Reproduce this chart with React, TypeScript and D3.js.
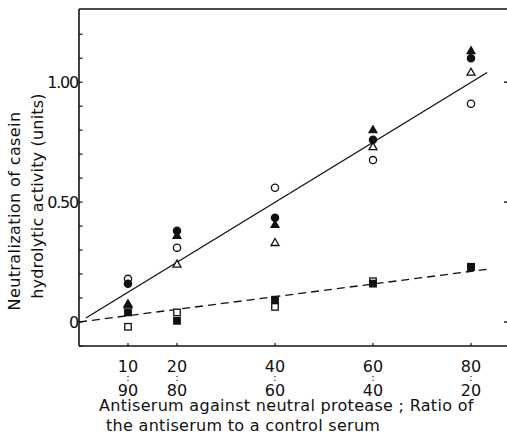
import React from "react";
import * as d3 from "d3";

const xValues = [10, 20, 40, 60, 80];
const ratioTop = ["10", "20", "40", "60", "80"];
const ratioBottom = ["90", "80", "60", "40", "20"];
const openCircle = [0.18, 0.31, 0.56, 0.675, 0.91];
const filledCircle = [0.16, 0.38, 0.435, 0.76, 1.1];
const openTriangle = [0.075, 0.24, 0.33, 0.73, 1.04];
const filledTriangle = [0.07, 0.36, 0.405, 0.8, 1.13];
const openSquare = [-0.02, 0.04, 0.063, 0.17, 0.23];
const filledSquare = [0.04, 0.005, 0.093, 0.16, 0.23];
const solidFit = [[1.4, 0.017], [83.3, 1.04]];
const dashedFit = [[0, 0], [83.3, 0.22]];
const yTicks = [-0.1, 0, 0.1, 0.2, 0.3, 0.4, 0.5, 0.6, 0.7, 0.8, 0.9, 1.0, 1.1, 1.2];
const yLabels: [number, string][] = [[0, "0"], [0.5, "0.50"], [1.0, "1.00"]];

const W = 507, H = 434;
const x = d3.scaleLinear().domain([0, 87.5]).range([79, 507.75]);
const y = d3.scaleLinear().domain([-0.1, 1.305]).range([346, 9]);
const FONT = "'DejaVu Sans', sans-serif";

function tri(cx: number, cy: number, s: number) {
  const h = s * 0.87;
  return `M${cx},${cy - h * 0.62} L${cx + s / 2},${cy + h * 0.38} L${cx - s / 2},${cy + h * 0.38} Z`;
}

export default function App() {
  const line = d3.line<number[]>().x(d => x(d[0])).y(d => y(d[1]));
  const sq = 6.5;
  return (
    <svg width={W} height={H} style={{ position: "absolute", left: 0, top: 0, background: "#fff" }}>
      {/* frame */}
      <line x1={79} y1={y(1.305)} x2={W} y2={y(1.305)} stroke="#111" strokeWidth={1.6} />
      <line x1={79} y1={y(-0.1)} x2={W} y2={y(-0.1)} stroke="#111" strokeWidth={1.6} />
      <line x1={79} y1={y(1.305)} x2={79} y2={y(-0.1)} stroke="#111" strokeWidth={1.6} />
      {/* y ticks left */}
      {yTicks.map(t => (
        <line key={"yt" + t} x1={79} x2={82.5} y1={y(t)} y2={y(t)} stroke="#111" strokeWidth={1.2} />
      ))}
      {/* right ticks */}
      {[0, 0.5, 1.0].map(t => (
        <line key={"rt" + t} x1={504} x2={W} y1={y(t)} y2={y(t)} stroke="#111" strokeWidth={1.4} />
      ))}
      {yLabels.map(([v, s]) => (
        <text key={"yl" + s} x={78} y={y(v)} dy="0.36em" textAnchor="end" fontFamily={FONT} fontSize={16} letterSpacing={-1.2} fill="#111">{s}</text>
      ))}
      {/* x ticks */}
      {xValues.map((v, i) => (
        <g key={"xt" + v}>
          <line x1={x(v)} x2={x(v)} y1={y(-0.1)} y2={y(-0.1) - 3} stroke="#111" strokeWidth={1.2} />
          <text textAnchor="middle" fontFamily={FONT} fill="#111">
            <tspan x={x(v)} y={372} fontSize={16}>{ratioTop[i]}</tspan>
            <tspan x={x(v)} y={381} fontSize={10}>:</tspan>
            <tspan x={x(v)} y={396} fontSize={16}>{ratioBottom[i]}</tspan>
          </text>
        </g>
      ))}
      {/* fit lines */}
      <path d={line(solidFit) || ""} fill="none" stroke="#111" strokeWidth={1.3} />
      <path d={line(dashedFit) || ""} fill="none" stroke="#111" strokeWidth={1.3} strokeDasharray="8,5" />
      {/* markers */}
      {xValues.map((v, i) => (
        <g key={"m" + v}>
          <rect x={x(v) - sq / 2} y={y(openSquare[i]) - sq / 2} width={sq} height={sq} fill="#fff" stroke="#111" strokeWidth={1.3} />
          <rect x={x(v) - sq / 2} y={y(filledSquare[i]) - sq / 2} width={sq} height={sq} fill="#111" stroke="#111" strokeWidth={1.3} />
          <path d={tri(x(v), y(openTriangle[i]), 8)} fill="#fff" stroke="#111" strokeWidth={1.3} />
          <path d={tri(x(v), y(filledTriangle[i]), 8)} fill="#111" stroke="#111" strokeWidth={1.2} />
          <circle cx={x(v)} cy={y(openCircle[i])} r={3.6} fill="#fff" stroke="#111" strokeWidth={1.3} />
          <circle cx={x(v)} cy={y(filledCircle[i])} r={3.6} fill="#111" stroke="#111" strokeWidth={1.3} />
        </g>
      ))}
      {/* axis titles */}
      <text x={99} y={411} fontFamily={FONT} fontSize={16} letterSpacing={0.3} fill="#111">Antiserum against neutral protease ; Ratio of</text>
      <text x={106} y={431} fontFamily={FONT} fontSize={16} letterSpacing={0.3} fill="#111">the antiserum to a control serum</text>
      <text transform={`translate(20,211) rotate(-90)`} textAnchor="middle" fontFamily={FONT} fontSize={16} letterSpacing={0.4} fill="#111">Neutralization of casein</text>
      <text transform={`translate(43,196) rotate(-90)`} textAnchor="middle" fontFamily={FONT} fontSize={16} letterSpacing={0.2} fill="#111">hydrolytic activity (units)</text>
    </svg>
  );
}
